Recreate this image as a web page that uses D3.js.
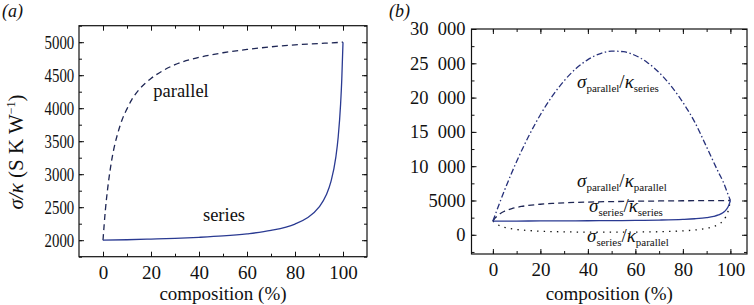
<!DOCTYPE html>
<html>
<head>
<meta charset="UTF-8" />
<script src="https://cdn.jsdelivr.net/npm/d3@7"></script>
<style>
	body { margin: 0; background: #fff; }
	text { font-family: "Liberation Serif", "DejaVu Serif", serif; }
</style>
</head>
<body>
<svg id="vis" width="754" height="305"></svg>
<script>
	// composition (%) et valeurs
	const compPar = [0, 1, 2, 3, 4, 5, 6, 8, 10, 12, 15, 20, 25, 30, 40, 50, 60, 70, 80, 90, 100];
	const parallel = [2000, 2460, 2800, 3070, 3290, 3460, 3600, 3830, 3990, 4130, 4280, 4450, 4570, 4660, 4770, 4840, 4890, 4930, 4960, 4980, 5000];

	const compSer = [0, 10, 20, 30, 40, 50, 60, 70, 80, 85, 90, 93, 95, 97, 98, 99, 99.5, 100];
	const series = [2000, 2007, 2017, 2028, 2044, 2065, 2097, 2148, 2245, 2336, 2500, 2684, 2891, 3254, 3564, 4062, 4447, 5000];

	const compPS = [0, 5, 10, 15, 20, 25, 30, 35, 40, 45, 50, 55, 60, 65, 70, 75, 80, 85, 90, 95, 97, 99, 100];
	const parOverSer = [2000, 6570, 10680, 14320, 17500, 20200, 22450, 24230, 25540, 26390, 26780, 26690, 26140, 25130, 23650, 21700, 19300, 16420, 12800, 9100, 7700, 5890, 5000];

	const compSP = [0, 1, 2, 5, 10, 15, 20, 30, 40, 50, 60, 70, 80, 85, 90, 93, 95, 97, 98, 99, 100];
	const serOverPar = [2000, 1700, 1480, 1080, 770, 620, 520, 430, 390, 380, 400, 450, 570, 700, 940, 1210, 1520, 2080, 2570, 3390, 5000];

	const xMajor = [0, 20, 40, 60, 80, 100];
	const xMinor = [0, 10, 20, 30, 40, 50, 60, 70, 80, 90, 100];
	const yMajorA = [2000, 2500, 3000, 3500, 4000, 4500, 5000];
	const yMinorA = d3.range(1750, 5251, 250);
	const yMajorB = [0, 5000, 10000, 15000, 20000, 25000, 30000];
	const yLabelsB = ["0", "5000", "10\u2002000", "15\u2002000", "20\u2002000", "25\u2002000", "30\u2002000"];
	const yMinorB = d3.range(-2500, 30001, 2500);

	const svg = d3.select("#vis");
	svg.append("rect").attr("width", 754).attr("height", 305).attr("fill", "#fff");

	// échelles des deux panneaux
	const xA = d3.scaleLinear().domain([-10, 110]).range([79, 367]);
	const yA = d3.scaleLinear().domain([1750, 5250]).range([256.7, 25.7]);
	const xB = d3.scaleLinear().domain([-9, 107]).range([471.5, 747]);
	const yB = d3.scaleLinear().domain([-2800, 30000]).range([254, 29]);

	function styleAxis(g) {
		g.select(".domain").remove();
		g.attr("font-family", "Liberation Serif").attr("font-size", 18.5);
		g.selectAll("line").attr("stroke", "#111");
		g.selectAll("text").attr("fill", "#111");
	}

	function drawFrame(x, y, yMajor, yMinor, yFmt, squeeze) {
		const [x0, x1] = x.range();
		const [y0, y1] = y.range();
		const minor = (axis, vals, t) => svg.append("g").attr("transform", t)
			.call(axis.tickValues(vals).tickSize(-3).tickFormat("")).call(styleAxis);

		minor(d3.axisBottom(x), xMinor, `translate(0,${y0})`);
		minor(d3.axisTop(x), xMinor, `translate(0,${y1})`);
		minor(d3.axisLeft(y), yMinor, `translate(${x0},0)`);
		minor(d3.axisRight(y), yMinor, `translate(${x1},0)`);

		svg.append("g").attr("transform", `translate(0,${y0})`)
			.call(d3.axisBottom(x).tickValues(xMajor).tickSize(-5).tickPadding(9)).call(styleAxis)
			.attr("font-size", 19);
		svg.append("g").attr("transform", `translate(0,${y1})`)
			.call(d3.axisTop(x).tickValues(xMajor).tickSize(-5).tickFormat("")).call(styleAxis);
		const gl = svg.append("g").attr("transform", `translate(${x0},0)`)
			.call(d3.axisLeft(y).tickValues(yMajor).tickSize(-5).tickPadding(6).tickFormat(yFmt)).call(styleAxis);
		if (squeeze) gl.selectAll("text").attr("transform", "scale(0.8,1)");
		svg.append("g").attr("transform", `translate(${x1},0)`)
			.call(d3.axisRight(y).tickValues(yMajor).tickSize(-5).tickFormat("")).call(styleAxis);

		svg.append("rect")
			.attr("x", x0).attr("y", y1)
			.attr("width", x1 - x0).attr("height", y0 - y1)
			.attr("fill", "none").attr("stroke", "#111").attr("stroke-width", 1.2);

		svg.append("text")
			.attr("x", (x0 + x1) / 2).attr("y", 300)
			.attr("text-anchor", "middle").attr("font-size", 19).attr("fill", "#111")
			.text("composition (%)");
	}

	function curve(x, y, comps, vals, color, dash) {
		const line = d3.line()
			.x((d, i) => x(comps[i]))
			.y(d => y(d))
			.curve(d3.curveMonotoneX);
		svg.append("path")
			.attr("d", line(vals))
			.attr("fill", "none")
			.attr("stroke", color)
			.attr("stroke-width", 1.3)
			.attr("stroke-dasharray", dash);
	}

	// panneau (a)
	drawFrame(xA, yA, yMajorA, yMinorA, d => d, true);
	curve(xA, yA, compPar, parallel, "#1e2654", "6,4");
	curve(xA, yA, compSer, series, "#2a3a92", null);

	svg.append("text").attr("x", 181).attr("y", 97).attr("text-anchor", "middle")
		.attr("font-size", 18.5).attr("fill", "#111").text("parallel");
	svg.append("text").attr("x", 224).attr("y", 221).attr("text-anchor", "middle")
		.attr("font-size", 18.5).attr("fill", "#111").text("series");

	const yl = svg.append("text")
		.attr("transform", "translate(23,152) rotate(-90)")
		.attr("text-anchor", "middle").attr("font-size", 21).attr("fill", "#111");
	yl.append("tspan").attr("font-style", "italic").text("σ/κ");
	yl.append("tspan").text(" (S K W");
	yl.append("tspan").attr("font-size", 12).attr("dy", -8).text("−1");
	yl.append("tspan").attr("dy", 8).text(")");

	// panneau (b)
	drawFrame(xB, yB, yMajorB, yMinorB, (d, i) => yLabelsB[i], false);
	curve(xB, yB, compSP, serOverPar, "#111", "1.4,5.2");
	curve(xB, yB, compPar, parallel, "#1e2654", "6,4");
	curve(xB, yB, compSer, series, "#2a3a92", null);
	curve(xB, yB, compPS, parOverSer, "#26307a", "6,2.5,1.5,2.5");

	function ratioLabel(x, y, top, bottom) {
		const t = svg.append("text").attr("x", x).attr("y", y).attr("font-size", 19).attr("fill", "#111");
		t.append("tspan").attr("font-style", "italic").text("σ");
		t.append("tspan").attr("font-size", 11).attr("dy", 4).text(top);
		t.append("tspan").attr("dy", -4).text("/");
		t.append("tspan").attr("font-style", "italic").text("κ");
		t.append("tspan").attr("font-size", 11).attr("dy", 4).text(bottom);
	}
	ratioLabel(577, 88, "parallel", "series");
	ratioLabel(577, 187, "parallel", "parallel");
	ratioLabel(589, 212, "series", "series");
	ratioLabel(587, 242, "series", "parallel");

	// lettres des panneaux
	svg.append("text").attr("x", 2).attr("y", 17).attr("font-size", 18)
		.attr("font-style", "italic").attr("fill", "#111").text("(a)");
	svg.append("text").attr("x", 389).attr("y", 17).attr("font-size", 18)
		.attr("font-style", "italic").attr("fill", "#111").text("(b)");
</script>
</body>
</html>
